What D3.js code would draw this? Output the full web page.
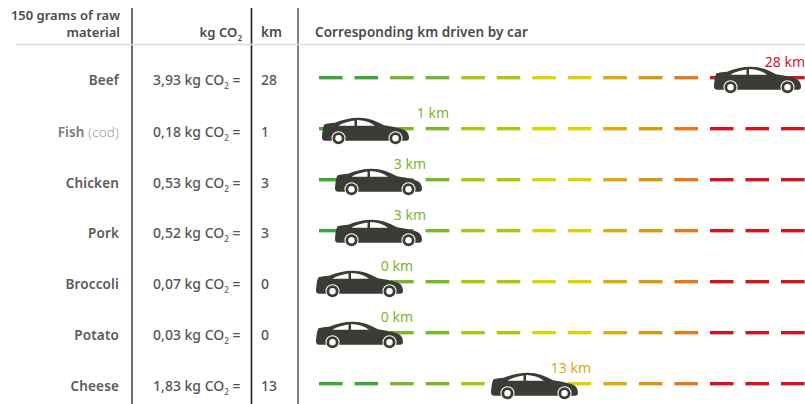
<!DOCTYPE html>
<html><head><meta charset="utf-8">
<script src="https://cdn.jsdelivr.net/npm/d3@7"></script>
<style>
html,body{margin:0;padding:0;background:#fff}
svg{display:block}
text{font-family:"Noto Sans","Open Sans",sans-serif}
</style></head><body>
<svg id="c" width="805" height="404"></svg>
<script>
const foods = ["Beef","Fish","Chicken","Pork","Broccoli","Potato","Cheese"];
const foodNotes = ["","(cod)","","","","",""];
const co2 = ["3,93","0,18","0,53","0,52","0,07","0,03","1,83"];
const km = [28,1,3,3,0,0,13];
const dashColors = ["#3aaa35","#3aaa35","#7ab62c","#7ab62c","#b2c40f","#b2c40f","#dcd400","#dcd400","#dfa90c","#d8980f","#e8781a","#d2151f","#d2151f","#d2151f"];
const kmBands = [0,1,3,13,28];

const svg = d3.select("#c");
const W = 805;
const INK = "#3c3c36";

const rowY = d3.scaleLinear().domain([0,6]).range([77.7,383.7]);
const textDY = [0.5,1,1.5,0,0,0,0.5];
const dashX = d3.scaleLinear().domain([0,13]).range([319,781]);
const dashLen = 23.6;
// Car position along the road: the source's road is not linear in km.
const carX = d3.scaleLinear().domain(kmBands).range([316,322,335,491,714]);
const labelEnd = d3.scaleLinear().domain(kmBands).range([413,449,426,591,805]);
const labelColor = d3.scaleThreshold().domain([13,28]).range(["#7ab62c","#dfa90c","#d2151f"]);

// rules
[[132,"#6e6e6e",2],[251.5,"#222",1.6],[298,"#808080",2]].forEach(([x,c,w])=>{
  svg.append("line").attr("x1",x).attr("x2",x).attr("y1",8).attr("y2",404).attr("stroke",c).attr("stroke-width",w);
});
svg.append("line").attr("x1",16).attr("x2",W).attr("y1",44.5).attr("y2",44.5).attr("stroke","#dcdcdc").attr("stroke-width",1.6);

// header
const head = svg.append("g").attr("fill","#4a4a4a").attr("font-size",13.5).attr("font-weight",600);
head.append("text").attr("x",120).attr("y",20).attr("font-size",13).attr("text-anchor","end").text("150 grams of raw");
head.append("text").attr("x",120).attr("y",37).attr("font-size",13).attr("text-anchor","end").text("material");
const kgH = head.append("text").attr("x",242).attr("y",37).attr("font-size",13.2).attr("text-anchor","end");
kgH.append("tspan").text("kg CO");
kgH.append("tspan").attr("font-size",8).attr("dy",4).text("2");
head.append("text").attr("x",261).attr("y",37).text("km");
head.append("text").attr("x",315).attr("y",37).attr("letter-spacing",0.07).text("Corresponding km driven by car");

// rows
const rows = svg.selectAll("g.row").data(foods.map((f,i)=>({f,i,note:foodNotes[i],co2:co2[i],km:km[i]})))
  .join("g").attr("class","row").attr("transform",d=>`translate(0,${rowY(d.i)})`);

rows.each(function(d){
  const g = d3.select(this);
  g.selectAll("line.dash").data(dashColors).join("line").attr("class","dash")
    .attr("x1",(c,j)=>dashX(j)).attr("x2",(c,j)=>dashX(j)+dashLen)
    .attr("stroke",c=>c).attr("stroke-width",3.4);

  const ty = 7+textDY[d.i];
  const name = g.append("text").attr("x",119).attr("y",ty).attr("text-anchor","end")
     .attr("font-size",13.5).attr("letter-spacing",0.15).attr("font-weight",600).attr("fill",d.i==1?"#777777":"#5a5a5a");
  name.append("tspan").text(d.f);
  if(d.note) name.append("tspan").attr("font-weight",300).attr("fill","#a0a0a0").text(" "+d.note);

  const v = g.append("text").attr("x",240.5).attr("y",ty).attr("text-anchor","end")
     .attr("font-size",14).attr("font-weight",500).attr("fill","#555555");
  v.append("tspan").text(d.co2+" kg CO");
  v.append("tspan").attr("font-size",8).attr("dy",4).text("2");
  v.append("tspan").attr("dy",-4).text(" =");

  g.append("text").attr("x",261).attr("y",ty).attr("font-size",14).attr("font-weight",500).attr("fill","#555555").text(d.km);

  const car = g.append("g").attr("transform",`translate(${carX(d.km)},-11)`);
  car.append("path").attr("fill",INK)
    .attr("d","M2.5,6.5 C6,5.5 9,5.5 13,5 C20,2 28,0 37,0 C46,0 54,3 62,7.5 C70,9 79,10 83,12.5 C86,14.5 87,17 87,20.5 C87,22.5 85,23 83,23 L4,23 C1,23 0,22 0,19 C0.5,15 0.5,10 2.5,6.5 Z");
  car.append("path").attr("fill","#fff").attr("d","M17,7.5 C22,5 27,3.5 32.5,2.7 L32.5,8 L17,8 Z");
  car.append("path").attr("fill","#fff").attr("d","M35,2.4 C42,2.4 48,4.5 53,8 L35,8 Z");
  [16.5,73.5].forEach(cx=>{
    car.append("circle").attr("cx",cx).attr("cy",20.5).attr("r",7).attr("fill","#fff");
    car.append("circle").attr("cx",cx).attr("cy",20.5).attr("r",6).attr("fill",INK);
    car.append("circle").attr("cx",cx).attr("cy",20.5).attr("r",3.2).attr("fill","#fff");
  });

  g.append("text").attr("x",labelEnd(d.km)).attr("y",-11).attr("text-anchor","end")
    .attr("font-size",14).attr("fill",labelColor(d.km)).text(d.km+" km");
});
</script></body></html>
